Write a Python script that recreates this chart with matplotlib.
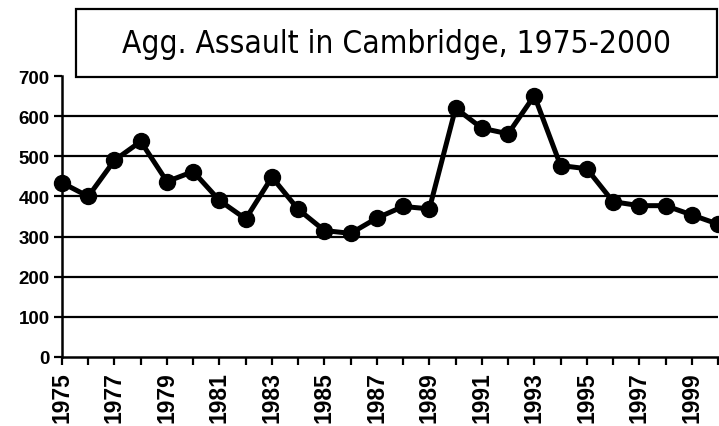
import matplotlib
matplotlib.use('Agg')
import matplotlib.pyplot as plt
from matplotlib.patches import Rectangle

# values
years = list(range(1975, 2001))
assaults = [434, 400, 490, 537, 437, 462, 390, 344, 448, 368, 315, 308, 346,
            375, 369, 620, 570, 556, 651, 477, 469, 387, 377, 377, 354, 331]
y_ticks = [0, 100, 200, 300, 400, 500, 600, 700]
label_years = list(range(1975, 2000, 2))
title = "Agg. Assault in Cambridge, 1975-2000"

W, H = 719, 427
fig = plt.figure(figsize=(W / 100, H / 100), dpi=100)
ax = fig.add_axes([62 / W, 69 / H, (718 - 62) / W, (350 - 69) / H])

# horizontal rules
for v in y_ticks[1:-1]:
    ax.axhline(v, color='black', lw=1.6, zorder=1)

ax.plot(years, assaults, color='black', lw=3.6, marker='o', markersize=11.5,
        clip_on=False, zorder=3)

ax.set_xlim(1975, 2000)
ax.set_ylim(0, 700)
ax.set_yticks(y_ticks)
ax.set_xticks(years)
ax.set_xticklabels([str(y) if y in label_years else '' for y in years],
                   rotation=90, fontsize=16.5, fontweight='bold',
                   family='Liberation Sans')
for lbl in ax.get_yticklabels():
    lbl.set_fontsize(13.5)
    lbl.set_fontweight('bold')
    lbl.set_family('Liberation Sans')

for s in ['top', 'right']:
    ax.spines[s].set_visible(False)
for s in ['left', 'bottom']:
    ax.spines[s].set_linewidth(1.8)
ax.tick_params(axis='both', direction='out', length=6, width=1.6, pad=3)
ax.tick_params(axis='x', pad=4)

# title box at the top
box = Rectangle((76 / W, 1 - 78 / H), (717 - 76) / W, (78 - 10) / H,
                transform=fig.transFigure, facecolor='white', edgecolor='black',
                lw=1.6, zorder=5)
fig.patches.append(box)
fig.text(397 / W, 1 - 53 / H, title, ha='center', va='baseline', fontsize=22.7,
         family='DejaVu Sans', fontstretch='condensed', zorder=6)

fig.savefig('out.png', dpi=100)
